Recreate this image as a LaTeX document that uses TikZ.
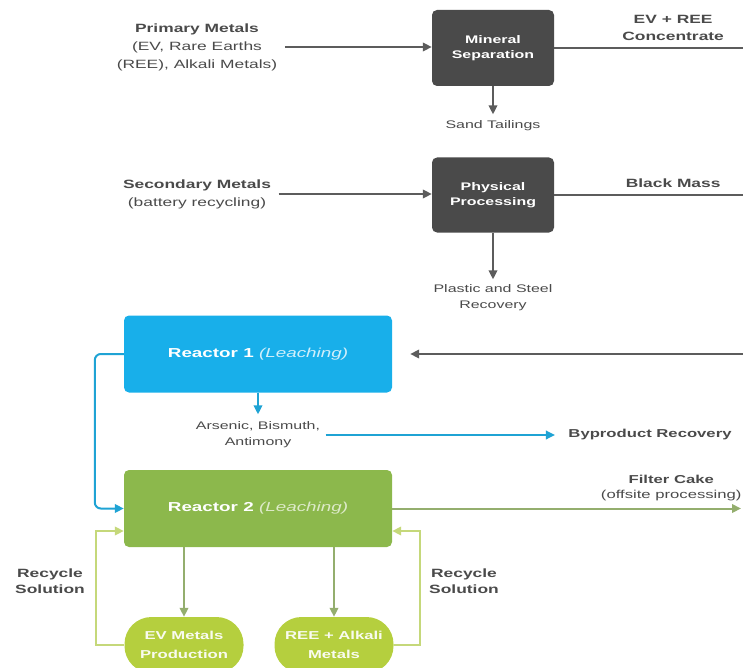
\documentclass[tikz,border=0pt]{standalone}
\usepackage{fontspec}
\setmainfont{Liberation Sans}[FakeStretch=1.45]
\usepackage{tikz}
\usetikzlibrary{arrows.meta,positioning,calc}
\definecolor{boxdark}{HTML}{4A4A4A}
\definecolor{linegray}{HTML}{5C5C5C}
\definecolor{txtgray}{HTML}{4A4A4A}
\definecolor{reablue}{HTML}{18AFEA}
\definecolor{loopblue}{HTML}{1FA3D4}
\definecolor{reagreen}{HTML}{8CB84C}
\definecolor{arrgreen}{HTML}{94AE6E}
\definecolor{ovalgreen}{HTML}{B5CF3E}
\definecolor{recgreen}{HTML}{C5D87A}

\begin{document}
\begin{tikzpicture}[x=1pt,y=-1pt,>={Triangle[length=9pt,width=8.5pt]},
  lab/.style={align=center,text=txtgray,font=\fontsize{12}{18}\selectfont},
  sm/.style={align=center,text=txtgray,font=\fontsize{11}{16}\selectfont},
  dbox/.style={fill=boxdark,rounded corners=5pt,minimum width=122pt,minimum height=76pt,
    align=center,text=white,font=\bfseries\fontsize{11}{15}\selectfont},
  rbox/.style={rounded corners=5pt,minimum width=268pt,minimum height=77pt,
    text=white,font=\fontsize{13}{16}\selectfont},
  oval/.style={fill=ovalgreen,rounded corners=27pt,minimum width=119pt,minimum height=56pt,
    align=center,text=white!92!ovalgreen,font=\bfseries\fontsize{11.5}{19}\selectfont},
  gl/.style={draw=linegray,line width=2pt},
  bl/.style={draw=loopblue,line width=2pt},
  gr/.style={draw=arrgreen,line width=2pt},
  rc/.style={draw=recgreen,line width=2pt}]
\useasboundingbox (0,0) rectangle (743,668);

% feed side
\node[dbox] (sep) at (493,48) {Mineral\\Separation};
\node[dbox,minimum height=75pt] (phys) at (493,195) {Physical\\Processing};
\node[lab] (prim) at (197,47) {\textbf{Primary Metals}\\(EV, Rare Earths\\(REE), Alkali Metals)};
\node[lab] (sec) at (197,194) {\textbf{Secondary Metals}\\(battery recycling)};
\node[sm] (sand) at (493,126) {Sand Tailings};
\node[sm] (plast) at (493,298) {Plastic and Steel\\Recovery};
\coordinate (evout) at (743,48);
\coordinate (bmout) at (743,195);
\coordinate (bmin) at (743,354);

\draw[gl,->] (prim.east) ++(4,0) -- (prim.east -| sep.west);
\draw[gl,->] (sec.east) ++(4,0) -- (sec.east -| phys.west);
\draw[gl] (sep.east) -- (evout)
  node[lab,pos=0.63,above=3pt,font=\bfseries\fontsize{12}{17}\selectfont]{EV + REE\\Concentrate};
\draw[gl] (phys.east) -- (bmout)
  node[lab,pos=0.63,above=3pt,font=\bfseries\fontsize{12}{17}\selectfont]{Black Mass};
\draw[gl,->,shorten >=3pt] (sep) -- (sand);
\draw[gl,->,shorten >=2pt] (phys) -- (plast);

% reactors
\node[rbox,fill=reablue] (r1) at (258,354) {\textbf{Reactor 1} \textit{\color{white!80!reablue}(Leaching)}};
\node[rbox,fill=reagreen] (r2) at (258,508.5) {\textbf{Reactor 2} \textit{\color{white!70!reagreen}(Leaching)}};
\node[sm] (ars) at (258,435) {Arsenic, Bismuth,\\Antimony};
\node[lab,font=\bfseries\fontsize{11.5}{16}\selectfont] (byp) at (650,435) {Byproduct Recovery};
\coordinate (fcout) at (741,508.5);

\draw[gl,->,shorten >=18pt] (bmin) -- (bmin -| r1.east);
\draw[bl,->,shorten >=4pt] (r1) -- (ars);
\draw[bl,->] (ars.east) ++(2,0) -- ([xshift=-10pt]byp.west);
\draw[bl,->,rounded corners=6pt] (r1.west) -- ++(-29,0) |- (r2.west);
\draw[gr,->] (r2.east) -- (fcout)
  node[sm,pos=0.8,above=3pt,font=\fontsize{11.5}{15}\selectfont]{\textbf{Filter Cake}\\(offsite processing)};

% products and recycle
\node[oval] (ev) at (184,645) {EV Metals\\Production};
\node[oval] (ree) at (334,645) {REE + Alkali\\Metals};
\node[lab,font=\bfseries\fontsize{12}{16}\selectfont] (recl) at (50,581) {Recycle\\Solution};
\node[lab,font=\bfseries\fontsize{12}{16}\selectfont] (recr) at (464,581) {Recycle\\Solution};

\draw[gr,->] (r2.south -| ev) -- (ev);
\draw[gr,->] (r2.south -| ree) -- (ree);
\draw[rc,->] (ev.west) -- ++(-28,0) |- ([yshift=-22.5pt]r2.west);
\draw[rc,->] (ree.east) -- ++(26,0) |- ([yshift=-22.5pt]r2.east);
\end{tikzpicture}
\end{document}
